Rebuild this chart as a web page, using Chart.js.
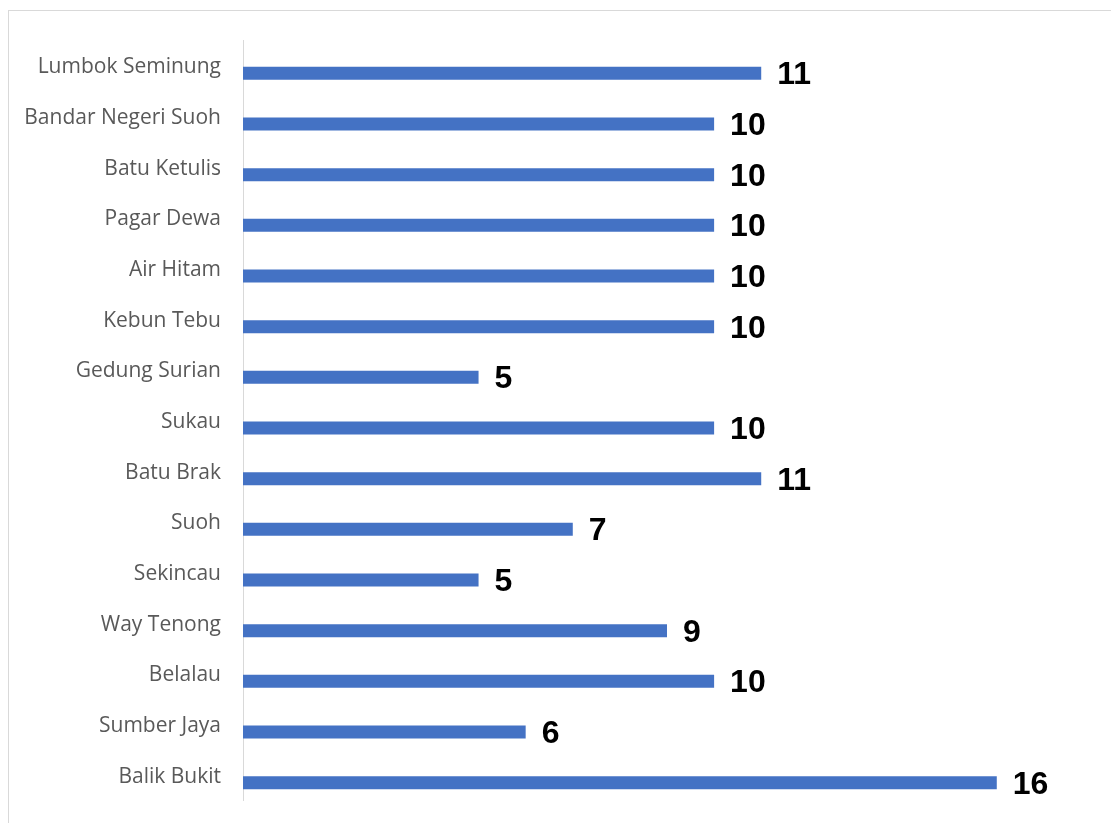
<!DOCTYPE html>
<html lang="id">
<head>
    <meta charset="UTF-8">
    <title>Jumlah per Kecamatan</title>
    <style>
        body {
            margin: 0;
            padding: 0;
            background-color: #ffffff;
            overflow: hidden;
        }

        /* bingkai abu-abu tipis seperti di gambar */
        .frame {
            position: absolute;
            left: 8px;
            top: 10px;
            width: 1200px;
            height: 900px;
            border: 1px solid #d9d9d9;
        }

        .chart-box {
            position: absolute;
            left: 0;
            top: 0;
            width: 1111px;
            height: 823px;
        }
    </style>
</head>
<body>

<div class="frame"></div>
<div class="chart-box">
    <canvas id="barChart"></canvas>
</div>

<script src="https://cdn.jsdelivr.net/npm/chart.js"></script>

<script>
    // Data
    const kecamatan = [
        'Lumbok Seminung', 'Bandar Negeri Suoh', 'Batu Ketulis', 'Pagar Dewa',
        'Air Hitam', 'Kebun Tebu', 'Gedung Surian', 'Sukau', 'Batu Brak',
        'Suoh', 'Sekincau', 'Way Tenong', 'Belalau', 'Sumber Jaya', 'Balik Bukit'
    ];
    const jumlah = [11, 10, 10, 10, 10, 10, 5, 10, 11, 7, 5, 9, 10, 6, 16];
    // seri kosong (di Excel ada seri kedua tanpa nilai, makanya batang bergeser ke bawah)
    const seriKosong = kecamatan.map(() => null);

    // Plugin kecil untuk menulis angka di ujung batang
    const labelNilai = {
        id: 'labelNilai',
        afterDatasetsDraw(chart) {
            const ctx = chart.ctx;
            const meta = chart.getDatasetMeta(1);
            ctx.save();
            ctx.font = 'bold 32px "Liberation Sans", Arial, sans-serif';
            ctx.fillStyle = '#000000';
            ctx.textAlign = 'left';
            ctx.textBaseline = 'middle';
            meta.data.forEach((bar, i) => {
                ctx.fillText(String(jumlah[i]), bar.x + 16, bar.y + 2);
            });
            ctx.restore();
        }
    };

    const ctx = document.getElementById('barChart').getContext('2d');
    const barChart = new Chart(ctx, {
        type: 'bar',
        data: {
            labels: kecamatan,
            datasets: [
                {
                    label: '',
                    data: seriKosong,
                    backgroundColor: 'rgba(0,0,0,0)'
                },
                {
                    label: 'Jumlah',
                    data: jumlah,
                    backgroundColor: '#4472c4',
                    borderWidth: 0
                }
            ]
        },
        options: {
            indexAxis: 'y',
            responsive: true,
            maintainAspectRatio: false,
            animation: false,
            categoryPercentage: 0.632,
            barPercentage: 0.81,
            layout: {
                padding: { left: 0, top: 40, right: 20, bottom: 23 }
            },
            plugins: {
                legend: { display: false },
                tooltip: { enabled: false }
            },
            scales: {
                x: {
                    display: false,
                    min: 0,
                    max: 18
                },
                y: {
                    grid: { display: false, drawTicks: false },
                    border: { display: true, color: '#d9d9d9', width: 1 },
                    ticks: {
                        color: '#595959',
                        padding: 22,
                        labelOffset: 2,
                        font: { family: '"Open Sans", sans-serif', size: 21 }
                    },
                    afterFit(scale) {
                        scale.width = 243;
                        // jangan tambah ruang atas/bawah dari padding label
                        scale.paddingTop = 0;
                        scale.paddingBottom = 0;
                    }
                }
            }
        },
        plugins: [labelNilai]
    });
</script>

</body>
</html>
